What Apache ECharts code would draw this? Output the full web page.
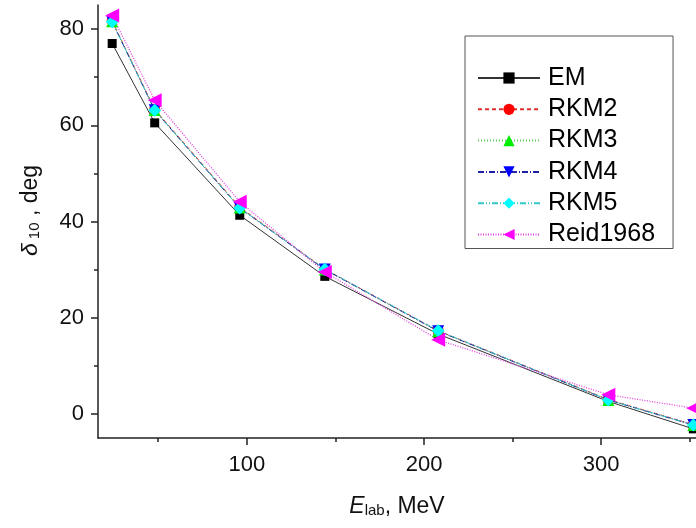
<!DOCTYPE html>
<html>
<head>
<meta charset="utf-8">
<script src="https://cdn.jsdelivr.net/npm/echarts@6/dist/echarts.min.js"></script>
<style>
  html, body { margin: 0; padding: 0; background: #fff; }
  #chart { width: 696px; height: 528px; }
</style>
</head>
<body>
<div id="chart"></div>
<script>
  // lab energies, MeV
  var energies = [24, 48, 96, 144, 208, 304, 352];

  // phase shift delta_10, deg
  var emValues = [77.0, 60.5, 41.3, 28.6, 16.6, 2.6, -3.1];
  var rkm2Values = [81.7, 63.3, 43.0, 30.1, 17.3, 3.0, -2.2];
  var rkm3Values = [81.6, 63.2, 42.9, 30.0, 17.2, 2.9, -2.3];
  var rkm4Values = [81.5, 63.1, 42.8, 30.0, 17.2, 2.9, -2.3];
  var rkm5Values = [81.5, 63.1, 42.8, 30.1, 17.3, 2.9, -2.3];
  var reidValues = [82.8, 65.2, 44.1, 29.5, 15.4, 4.0, 1.2];

  var xLabels = [100, 200, 300];
  var xMinorTicks = [50, 150, 250, 350];
  var yLabels = [0, 20, 40, 60, 80];
  var yMinorTicks = [10, 30, 50, 70];

  var FONT = 'Liberation Sans, Arial, sans-serif';
  var AXIS_COLOR = '#222';

  function pairs(values) {
    return energies.map(function (e, i) { return [e, values[i]]; });
  }

  function makeSeries(name, values, opts) {
    return {
      name: name,
      type: 'line',
      data: pairs(values),
      symbol: opts.symbol,
      symbolSize: opts.size,
      symbolRotate: opts.rotate || 0,
      itemStyle: { color: opts.marker },
      lineStyle: { color: opts.line, width: opts.width || 1, type: opts.dash },
      emphasis: { disabled: true },
      animation: false
    };
  }

  // axis used only to draw the short minor ticks
  function minorAxis(min, max, ticks, pos) {
    return {
      type: 'value',
      position: pos,
      min: min,
      max: max,
      axisLine: { show: false, onZero: false },
      axisTick: { inside: false, length: 4, customValues: ticks, lineStyle: { color: AXIS_COLOR, width: 1.5 } },
      axisLabel: { show: false },
      splitLine: { show: false }
    };
  }

  var titleRich = {
    i: { fontFamily: FONT, fontStyle: 'italic', fontSize: 23, color: '#111', verticalAlign: 'bottom', lineHeight: 28 },
    s: { fontFamily: FONT, fontSize: 15, color: '#111', verticalAlign: 'bottom', lineHeight: 21 },
    n: { fontFamily: FONT, fontSize: 23, color: '#111', verticalAlign: 'bottom', lineHeight: 28 }
  };

  var chart = echarts.init(document.getElementById('chart'), null, { renderer: 'canvas' });

  chart.setOption({
    backgroundColor: '#fff',
    animation: false,
    grid: { left: 98, top: 5, right: 0, bottom: 90 },
    legend: {
      orient: 'vertical',
      left: 465,
      top: 36,
      padding: [29, 18, 1, 12],
      itemWidth: 62,
      itemHeight: 14,
      itemGap: 5.3,
      borderColor: '#555',
      borderWidth: 1,
      textStyle: { fontFamily: FONT, fontSize: 25, lineHeight: 26, color: '#000', padding: [0, 0, 0, 3] },
      data: ['EM', 'RKM2', 'RKM3', 'RKM4', 'RKM5', 'Reid1968']
    },
    xAxis: [{
      type: 'value',
      position: 'bottom',
      min: 16,
      max: 353.5,
      axisLine: { onZero: false, lineStyle: { color: AXIS_COLOR, width: 1.5 } },
      axisTick: { inside: false, length: 7, customValues: xLabels, lineStyle: { color: AXIS_COLOR, width: 1.5 } },
      axisLabel: { customValues: xLabels, margin: 16, fontFamily: FONT, fontSize: 22, color: '#111' },
      splitLine: { show: false },
      name: '{i|E}{s|lab}{n|, MeV}',
      nameLocation: 'middle',
      nameGap: 52,
      nameTextStyle: { rich: titleRich }
    }, minorAxis(16, 353.5, xMinorTicks, 'bottom')],
    yAxis: [{
      type: 'value',
      position: 'left',
      min: -5,
      max: 85,
      axisLine: { onZero: false, lineStyle: { color: AXIS_COLOR, width: 1.5 } },
      axisTick: { inside: false, length: 7, customValues: yLabels, lineStyle: { color: AXIS_COLOR, width: 1.5 } },
      axisLabel: { customValues: yLabels, margin: 14, fontFamily: FONT, fontSize: 22, color: '#111' },
      splitLine: { show: false },
      name: '{i|δ}{s| 10}{n| , deg}',
      nameLocation: 'middle',
      nameGap: 56,
      nameTextStyle: { padding: [0, 0, 0, 22], rich: titleRich }
    }, minorAxis(-5, 85, yMinorTicks, 'left')],
    series: [
      makeSeries('EM', emValues, { symbol: 'rect', size: 9, marker: '#000', line: '#333', dash: 'solid' }),
      makeSeries('RKM2', rkm2Values, { symbol: 'circle', size: 11, marker: '#ff0000', line: '#e03030', dash: [4, 3] }),
      makeSeries('RKM3', rkm3Values, { symbol: 'triangle', size: 12, marker: '#00ee00', line: '#60cc60', dash: [1, 2] }),
      makeSeries('RKM4', rkm4Values, { symbol: 'triangle', size: 12, rotate: 180, marker: '#0000ff', line: '#2020a0', dash: [6, 2, 1, 2] }),
      makeSeries('RKM5', rkm5Values, { symbol: 'diamond', size: 13, marker: '#00ffff', line: '#30c8c8', dash: [6, 2, 1, 2, 1, 2] }),
      makeSeries('Reid1968', reidValues, { symbol: 'triangle', size: 14, rotate: 90, marker: '#ff00ff', line: '#e040e0', dash: [1, 1.5], width: 1.3 })
    ]
  });

  window.addEventListener('resize', function () {
    chart.resize();
  });
</script>
</body>
</html>
